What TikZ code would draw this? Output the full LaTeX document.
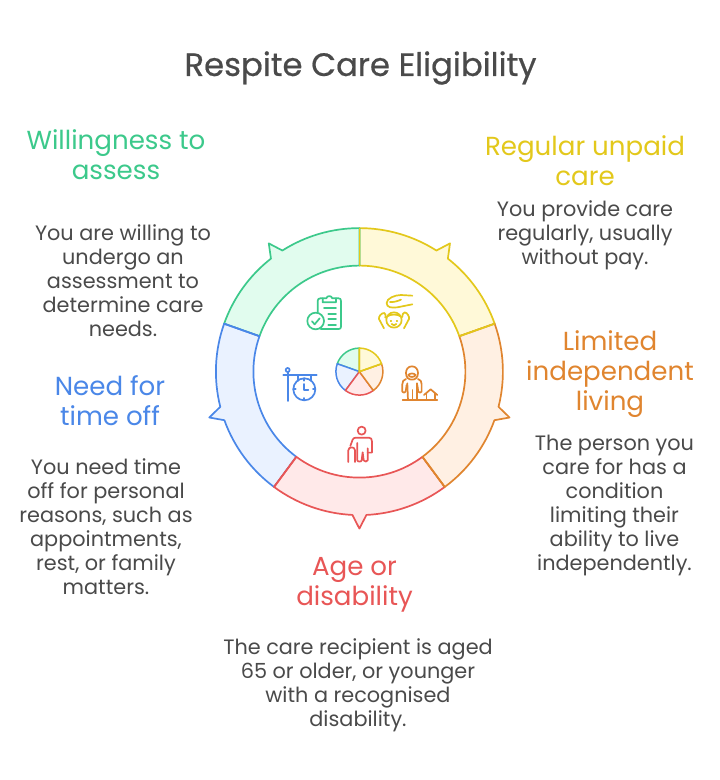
\documentclass[tikz,border=0pt]{standalone}
\usepackage{fontspec}
\setmainfont{Poppins}
\newfontfamily\titlefont[FakeBold=0.6]{Poppins}
\definecolor{gS}{HTML}{3CC98B}\definecolor{gF}{HTML}{E1FCEE}
\definecolor{yS}{HTML}{E3C81B}\definecolor{yF}{HTML}{FFF9D8}
\definecolor{oS}{HTML}{E0852F}\definecolor{oF}{HTML}{FFF0E3}
\definecolor{rS}{HTML}{E85656}\definecolor{rF}{HTML}{FFE9E9}
\definecolor{bS}{HTML}{4A87E8}\definecolor{bF}{HTML}{EAF2FF}
\definecolor{tx}{HTML}{4A4A4A}
\tikzset{
 titletext/.style={text=tx,font=\titlefont\fontsize{32.3}{38}\selectfont,inner sep=0pt,anchor=center},
 headtext/.style={align=center,font=\fontsize{26.1}{30}\selectfont,inner sep=0pt,anchor=center},
 desctext/.style={align=center,text=tx,font=\fontsize{20.8}{24}\selectfont,inner sep=0pt,anchor=center},
 ringseg/.style={line width=1.7pt,line join=round},
 ico/.style={line width=1.7pt,line cap=round,line join=round},
}
\newcommand{\ringpart}[4]{% start angle, end angle, stroke, fill
 \pgfmathsetmacro{\aS}{#1}\pgfmathsetmacro{\aE}{#2}\pgfmathsetmacro{\aM}{(#1+#2)/2}
 \pgfmathsetmacro{\aA}{\aM-2.8}\pgfmathsetmacro{\aB}{\aM+2.8}
 \filldraw[ringseg,draw=#3,fill=#4] (\aS:143.5) arc[start angle=\aS,end angle=\aA,radius=143.5]
   -- (\aM:157) -- (\aB:143.5) arc[start angle=\aB,end angle=\aE,radius=143.5]
   -- (\aE:106) arc[start angle=\aE,end angle=\aS,radius=106] -- cycle;
}
\newcommand{\miniwedge}[4]{%
 \pgfmathsetmacro{\aS}{#1}\pgfmathsetmacro{\aE}{#2}
 \filldraw[line width=1.5pt,line join=round,draw=#3,fill=#4] (0,0) -- (\aS:23.5) arc[start angle=\aS,end angle=\aE,radius=23.5] -- cycle;
}
\begin{document}
\begin{tikzpicture}[x=1pt,y=-1pt]
\useasboundingbox[fill=white] (0,0) rectangle (720,780);
\node[titletext] (title) at (360.5,68) {Respite Care Eligibility};
% ring (y-axis flipped locally)
\begin{scope}[shift={(359.4,371.6)},x=1pt,y=1pt]
 \ringpart{19.5}{90}{yS}{yF}
 \ringpart{90}{160.5}{gS}{gF}
 \ringpart{160.5}{233.5}{bS}{bF}
 \ringpart{233.5}{306.5}{rS}{rF}
 \ringpart{306.5}{379.5}{oS}{oF}
 \draw[ringseg,yS] (90:143.5) -- (90:106);
 \draw[ringseg,yS] (19.5:143.5) -- (19.5:106);
 \draw[ringseg,bS] (160.5:143.5) -- (160.5:106);
 \draw[ringseg,rS] (233.5:143.5) -- (233.5:106);
 \draw[ringseg,oS] (306.5:143.5) -- (306.5:106);
 \miniwedge{90}{160.5}{gS}{gF}
 \miniwedge{160.5}{233.5}{bS}{bF}
 \miniwedge{233.5}{306.5}{rS}{rF}
 \miniwedge{306.5}{379.5}{oS}{oF}
 \miniwedge{19.5}{90}{yS}{yF}
 \draw[line width=1.5pt,yS] (90:23.5) -- (0,0) -- (19.5:23.5);
\end{scope}
% icons, in 3x crop coordinates
\begin{scope}[shift={(200,215)},x=0.3333pt,y=-0.3333pt]
 % clipboard
 \begin{scope}[ico,gS]
  \draw (353,293) -- (353,258) .. controls (353,253) and (356,250) .. (361,250) -- (368,250);
  \draw (408,250) -- (416,250) .. controls (421,250) and (423,253) .. (423,258) -- (423,335) .. controls (423,340) and (421,342) .. (416,342) -- (362,342);
  \draw (368,262) -- (368,250) -- (379,250) .. controls (381,241) and (395,241) .. (397,250) -- (408,250) -- (408,262) -- cycle;
  \draw (347,318) circle[radius=25];
  \draw (336,319) -- (344,328) -- (359,310);
  \draw (372,278) -- (408,278);
  \draw (385,297) -- (408,297);
  \draw (385,313) -- (408,313);
  \draw (385,329) -- (408,329);
 \end{scope}
 % hand and child
 \begin{scope}[ico,yS]
  \draw (637,242) -- (603,240) .. controls (585,240) and (560,250) .. (560,264) .. controls (560,278) and (575,279) .. (592,277) -- (637,268);
  \draw (603,254) .. controls (592,259) and (580,262) .. (570,261);
  \draw (582,315) circle[radius=23];
  \draw (562,304) .. controls (572,297) and (592,297) .. (602,304);
  \draw (572,317) -- (574,317);
  \draw (590,317) -- (592,317);
  \draw (575,327) .. controls (579,332) and (585,332) .. (589,327);
  \draw (552,340) -- (537,312) .. controls (535,305) and (545,293) .. (553,294) .. controls (557,296) and (558,302) .. (556,308);
  \draw (612,340) -- (627,312) .. controls (629,305) and (622,293) .. (614,292) .. controls (609,294) and (606,300) .. (607,306);
 \end{scope}
 % elder and house
 \begin{scope}[ico,oS]
  \draw (636,454) .. controls (624,454) and (618,464) .. (618,474) .. controls (618,488) and (626,494) .. (636,494) .. controls (646,494) and (654,488) .. (654,474) .. controls (654,464) and (648,454) .. (636,454) -- cycle;
  \draw (625,480) .. controls (630,474) and (642,474) .. (647,480) .. controls (642,488) and (630,488) .. (625,480) -- cycle;
  \draw (618,492) .. controls (610,494) and (607,500) .. (607,508) -- (607,530) .. controls (609,534) and (615,534) .. (617,530) -- (620,510);
  \draw (654,492) .. controls (662,494) and (665,500) .. (665,508) -- (665,530) .. controls (663,534) and (657,534) .. (655,530) -- (652,510);
  \draw (624,555) -- (622,505) ;
  \draw (652,555) -- (652,505) ;
  \draw (638,555) -- (638,525);
  \draw (608,556) -- (712,556);
  \draw (672,540) -- (692,523) -- (712,540);
  \draw (680,555) -- (680,535);
  \draw (705,555) -- (705,535);
 \end{scope}
 % clock sign
 \begin{scope}[ico,bS]
  \draw (263,465) circle[radius=6];
  \draw (263,471) -- (263,558);
  \draw (250,480) -- (350,480);
  \draw (295,480) -- (295,497);
  \draw (333,480) -- (333,497);
  \draw (313,523) circle[radius=33];
  \draw (313,507) -- (313,525) -- (325,525);
  \draw (313,490) -- (313,497);
  \draw (313,549) -- (313,556);
  \draw (280,523) -- (287,523);
  \draw (339,523) -- (346,523);
 \end{scope}
 % elder with cane
 \begin{scope}[ico,rS]
  \draw (485,647) circle[radius=12];
  \draw (451,693) -- (458,674) .. controls (460,670) and (463,668) .. (468,668) -- (507,668) .. controls (513,668) and (516,672) .. (516,680) -- (516,713) -- (503,713);
  \draw (472,684) -- (472,736) .. controls (472,741) and (485,741) .. (485,736) -- (488,712) -- (491,736) .. controls (492,741) and (503,741) .. (503,736) -- (503,700);
  \draw (445,741) -- (445,706) .. controls (445,694) and (465,694) .. (465,706) -- (465,741);
 \end{scope}
\end{scope}
% green
\node[headtext,text=gS] (h1) at (116,155) {Willingness to\\assess};
\node[desctext] (d1) at (123,281) {You are willing to\\undergo an\\assessment to\\determine care\\needs.};
% yellow
\node[headtext,text=yS] (h2) at (585,161) {Regular unpaid\\care};
\node[desctext] (d2) at (585,235) {You provide care\\regularly, usually\\without pay.};
% orange
\node[headtext,text=oS] (h3) at (610,374) {Limited\\independent\\living};
\node[desctext] (d3) at (614.5,505) {The person you\\care for has a\\condition\\limiting their\\ability to live\\independently.};
% blue
\node[headtext,text=bS] (h4) at (110,401) {Need for\\time off};
\node[desctext] (d4) at (106,527) {You need time\\off for personal\\reasons, such as\\appointments,\\rest, or family\\matters.};
% red
\node[headtext,text=rS] (h5) at (354.5,585) {Age or\\disability};
\node[desctext] (d5) at (358,685) {The care recipient is aged\\65 or older, or younger\\with a recognised\\disability.};
\end{tikzpicture}
\end{document}
